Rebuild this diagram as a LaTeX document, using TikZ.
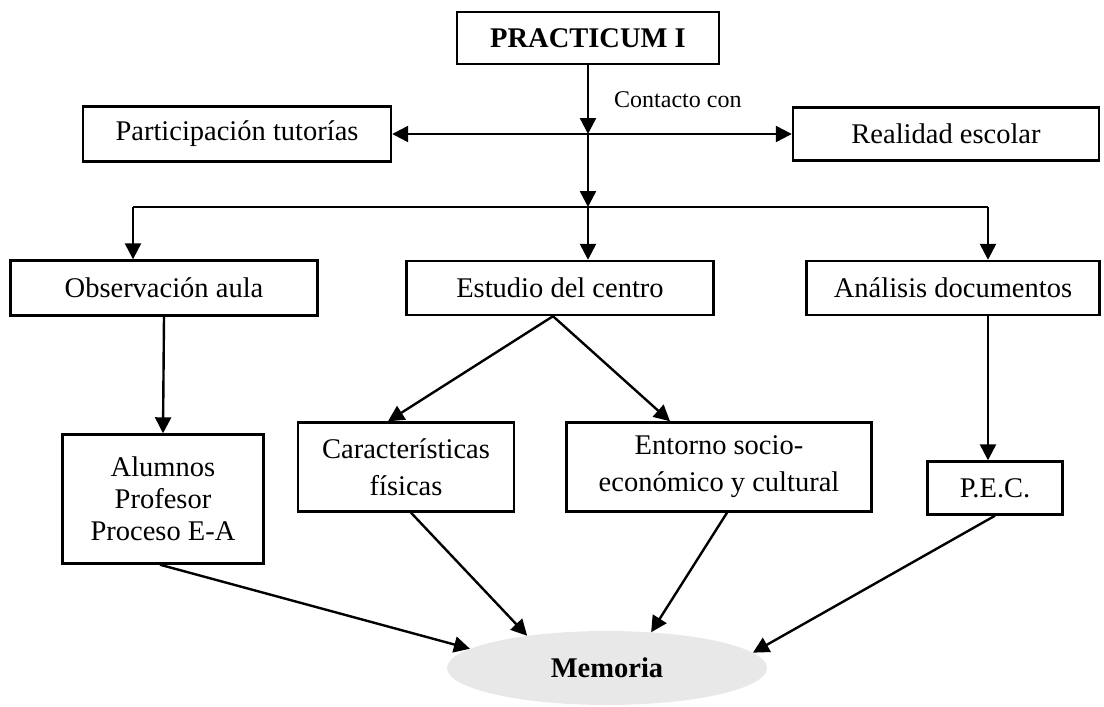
\documentclass[tikz,border=0pt]{standalone}
\usepackage{fontspec}
\setmainfont{Liberation Serif}
\usetikzlibrary{arrows.meta,shapes.geometric}

\begin{document}
\begin{tikzpicture}[x=1pt,y=-1pt,
    box/.style={draw,line width=2.4pt,inner sep=0pt,align=center,
                font=\fontsize{28.5}{32}\selectfont},
    widebox/.style={box,font=\fontsize{28.5}{37}\selectfont},
    arr/.style={line width=2.4pt,-{Triangle[length=16pt,width=16pt]}},
    wire/.style={line width=2.4pt}]
\useasboundingbox (0,0) rectangle (1104,707);

% Top box and the two contacts
\node[box,minimum width=262pt,minimum height=52pt] (practicum) at (588,38) {\textbf{PRACTICUM I}};
\node[box,minimum width=308pt,minimum height=55pt] (tutorias) at (237,134) {Participación tutorías};
\node[box,minimum width=306pt,minimum height=53pt] (realidad) at (946,134) {Realidad escolar};
\node[anchor=west,inner sep=0pt,font=\fontsize{24}{28}\selectfont] (contacto) at (614,100) {Contacto con};
\coordinate (hub) at (588,134);

% Drawing arrows from PRACTICUM I
\draw[arr] (practicum.south) -- (hub);
\draw[arr] (hub) -- (tutorias.east);
\draw[arr] (hub) -- (realidad.west);

% Second row of boxes
\node[box,minimum width=307pt,minimum height=55pt] (observacion) at (164,288) {Observación aula};
\node[box,minimum width=307pt,minimum height=54pt] (estudio) at (560,288) {Estudio del centro};
\node[box,minimum width=293pt,minimum height=54pt] (analisis) at (953,288) {Análisis documentos};

% Drawing the split line
\coordinate (split) at (588,207);
\coordinate (splitL) at (133,207);
\coordinate (splitR) at (988,207);
\draw[arr] (hub) -- (split);
\draw[wire] (splitL) -- (splitR);
\draw[arr] (splitL) -- (splitL |- observacion.north);
\draw[arr] (split) -- (split |- estudio.north);
\draw[arr] (splitR) -- (splitR |- analisis.north);

% Third row of boxes
\node[box,minimum width=201pt,minimum height=129pt] (alumnos) at (163,499) {Alumnos\\Profesor\\Proceso E-A};
\node[widebox,minimum width=216pt,minimum height=89pt] (caracteristicas) at (406,467) {Características\\físicas};
\node[widebox,minimum width=305pt,minimum height=89pt] (entorno) at (719,467) {Entorno socio-\\económico y cultural};
\node[box,minimum width=135pt,minimum height=53pt] (pec) at (995,488) {P.E.C.};

% Drawing arrows to third row
\draw[arr] (observacion.south) -- (alumnos.north);
\draw[arr] ([xshift=-7pt]estudio.south) -- ([xshift=-18pt]caracteristicas.north);
\draw[arr] ([xshift=-7pt]estudio.south) -- ([xshift=-49pt]entorno.north);
\draw[arr] ([xshift=35pt]analisis.south) -- ([xshift=35pt]analisis.south |- pec.north);

% Marking Memoria
\node[ellipse,fill=gray!18,minimum width=320pt,minimum height=74pt,inner sep=0pt,
      font=\fontsize{28.5}{32}\selectfont] (memoria) at (607,668) {\textbf{Memoria}};

% Drawing arrows to Memoria
\draw[arr] ([xshift=-3pt]alumnos.south) -- (memoria.172.8);
\draw[arr] ([xshift=5pt]caracteristicas.south) -- (memoria.158.6);
\draw[arr] ([xshift=8pt]entorno.south) -- (memoria.39.6);
\draw[arr] (pec.south) -- (memoria.6);
\end{tikzpicture}
\end{document}
